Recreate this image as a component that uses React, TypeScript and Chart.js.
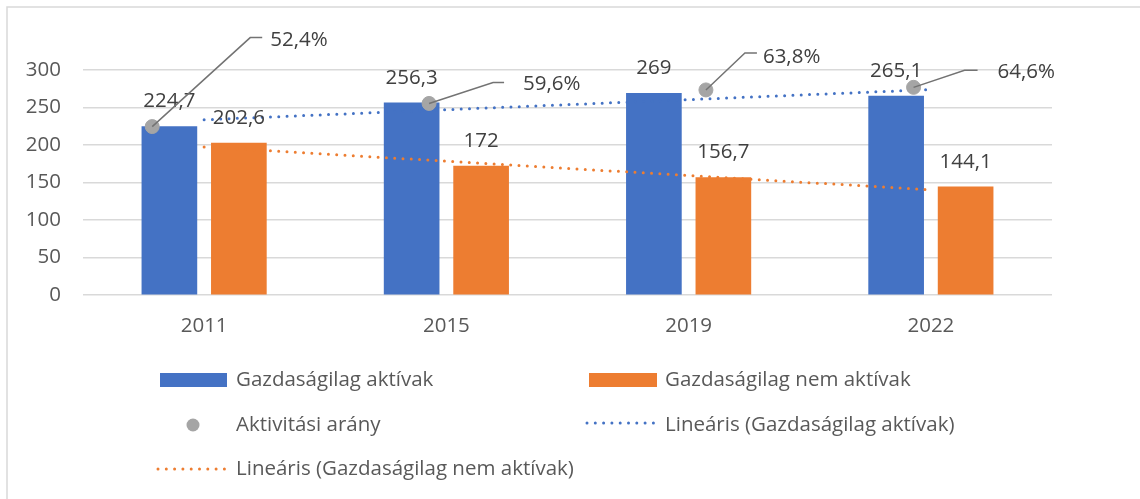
import React, { useEffect, useRef } from 'react';
import { Chart, registerables } from 'chart.js';

Chart.register(...registerables);

// ---- data ----
const categories = ['2011', '2015', '2019', '2022'];
const years = [2011, 2015, 2019, 2022];
const activeValues = [224.7, 256.3, 269, 265.1];
const inactiveValues = [202.6, 172, 156.7, 144.1];
const activityRate = [52.4, 59.6, 63.8, 64.6];
const activeTrend = [233.7, 247.1, 260.5, 273.9];
const inactiveTrend = [197.5, 178.4, 159.3, 140.2];

const seriesNames = [
  'Gazdaságilag aktívak',
  'Gazdaságilag nem aktívak',
  'Aktivitási arány',
  'Lineáris (Gazdaságilag aktívak)',
  'Lineáris (Gazdaságilag nem aktívak)',
];

// ---- styles / layout ----
const FONT = '"Open Sans", sans-serif';
const FONT_SIZE = 20.5;
const BLUE = '#4472c4';
const ORANGE = '#ed7d31';
const GRAY = '#a5a5a5';
const TEXT = '#404040';
const AXIS_TEXT = '#595959';
const GRID = '#d9d9d9';
const DOTS = [0, 8.3];
const BAR_WIDTH = 55;
const BAR_SHIFT = 0.1434; // fraction of a category between group centre and bar centre

// leader-line label placement for the rate labels (pixel offsets from the point)
const rateLabelLayout = [
  { ex: 98, ey: -89, tail: 12, tx: 118, ty: -86 },
  { ex: 64, ey: -21, tail: 11, tx: 94, ty: -19 },
  { ex: 39, ey: -37, tail: 12, tx: 57, ty: -33 },
  { ex: 51, ey: -17, tail: 13, tx: 84, ty: -15 },
];

const fmt = (v: number, suffix = '') => String(v).replace('.', ',') + suffix;

const labelsPlugin = {
  id: 'customLabels',
  afterDatasetsDraw(chart: any) {
    const ctx = chart.ctx as CanvasRenderingContext2D;
    ctx.save();
    ctx.font = `${FONT_SIZE}px ${FONT}`;
    ctx.fillStyle = TEXT;
    ctx.textAlign = 'center';
    ctx.textBaseline = 'middle';
    [activeValues, inactiveValues].forEach((vals, di) => {
      const meta = chart.getDatasetMeta(di);
      meta.data.forEach((el: any, i: number) => {
        ctx.fillText(fmt(vals[i]), el.x, el.y - 25);
      });
    });
    const pm = chart.getDatasetMeta(2);
    pm.data.forEach((el: any, i: number) => {
      const L = rateLabelLayout[i];
      ctx.beginPath();
      ctx.strokeStyle = '#737373';
      ctx.lineWidth = 1.5;
      ctx.moveTo(el.x, el.y);
      ctx.lineTo(el.x + L.ex, el.y + L.ey);
      ctx.lineTo(el.x + L.ex + L.tail, el.y + L.ey);
      ctx.stroke();
      ctx.textAlign = 'left';
      ctx.fillStyle = TEXT;
      ctx.fillText(fmt(activityRate[i], '%'), el.x + L.tx, el.y + L.ty);
    });
    ctx.restore();
  },
  afterDraw(chart: any) {
    const ctx = chart.ctx as CanvasRenderingContext2D;
    ctx.save();
    // outer frame
    ctx.strokeStyle = GRID;
    ctx.lineWidth = 1.5;
    ctx.beginPath();
    ctx.moveTo(7, 520);
    ctx.lineTo(7, 7);
    ctx.lineTo(1160, 7);
    ctx.stroke();

    // legend
    ctx.font = `${FONT_SIZE}px ${FONT}`;
    ctx.fillStyle = AXIS_TEXT;
    ctx.textAlign = 'left';
    ctx.textBaseline = 'middle';
    const rows = [380, 425, 469];
    const colA = { s: 160, e: 227, t: 236 };
    const colB = { s: 589, e: 657, t: 665 };
    const rect = (c: any, y: number, color: string) => {
      ctx.fillStyle = color;
      ctx.fillRect(c.s, y - 7, c.e - c.s, 14);
    };
    const dotted = (c: any, y: number, color: string) => {
      ctx.beginPath();
      ctx.strokeStyle = color;
      ctx.lineWidth = 3;
      ctx.lineCap = 'round';
      ctx.setLineDash(DOTS);
      ctx.moveTo(c.s, y);
      ctx.lineTo(c.e, y);
      ctx.stroke();
      ctx.setLineDash([]);
    };
    const label = (c: any, y: number, txt: string) => {
      ctx.fillStyle = AXIS_TEXT;
      ctx.fillText(txt, c.t, y);
    };
    rect(colA, rows[0], BLUE);
    label(colA, rows[0], seriesNames[0]);
    rect(colB, rows[0], ORANGE);
    label(colB, rows[0], seriesNames[1]);
    ctx.beginPath();
    ctx.fillStyle = GRAY;
    ctx.arc(193, rows[1], 6.5, 0, Math.PI * 2);
    ctx.fill();
    label(colA, rows[1], seriesNames[2]);
    dotted({ s: 587, e: 657 }, rows[1] - 2, BLUE);
    label(colB, rows[1], seriesNames[3]);
    dotted({ s: 158, e: 227 }, rows[2], ORANGE);
    label(colA, rows[2], seriesNames[4]);
    ctx.restore();
  },
};

export default function App() {
  const ref = useRef<HTMLCanvasElement | null>(null);
  useEffect(() => {
    let chart: Chart | null = null;
    let cancelled = false;
    const make = () => {
      if (cancelled || !ref.current) return;
      chart = new Chart(ref.current, {
        type: 'bar',
        data: {
          labels: categories,
          datasets: [
            {
              type: 'bar',
              label: seriesNames[0],
              data: categories.map((_, i) => ({ x: i, y: activeValues[i] })),
              xAxisID: 'xb1',
              backgroundColor: BLUE,
              order: 3,
              grouped: false,
              barThickness: BAR_WIDTH,
            },
            {
              type: 'bar',
              label: seriesNames[1],
              data: categories.map((_, i) => ({ x: i, y: inactiveValues[i] })),
              xAxisID: 'xb2',
              backgroundColor: ORANGE,
              order: 3,
              grouped: false,
              barThickness: BAR_WIDTH,
            },
            {
              type: 'scatter',
              label: seriesNames[2],
              data: years.map((y, i) => ({ x: y, y: activityRate[i] })),
              xAxisID: 'x2',
              yAxisID: 'y2',
              backgroundColor: GRAY,
              borderColor: GRAY,
              pointRadius: 7,
              order: 1,
            },
            {
              type: 'line',
              label: seriesNames[3],
              data: activeTrend,
              xAxisID: 'x',
              borderColor: BLUE,
              borderWidth: 3,
              borderDash: DOTS,
              borderCapStyle: 'round',
              pointRadius: 0,
              fill: false,
              tension: 0,
              order: 2,
            },
            {
              type: 'line',
              label: seriesNames[4],
              data: inactiveTrend,
              xAxisID: 'x',
              borderColor: ORANGE,
              borderWidth: 3,
              borderDash: DOTS,
              borderCapStyle: 'round',
              pointRadius: 0,
              fill: false,
              tension: 0,
              order: 2,
            },
          ] as any,
        },
        options: {
          responsive: false,
          animation: false,
          layout: { padding: { top: 70, right: 88, left: 0, bottom: 0 } },
          plugins: {
            legend: { display: false },
            tooltip: { enabled: false },
          },
          scales: {
            x: {
              type: 'category',
              offset: true,
              grid: { display: false },
              border: { display: false },
              ticks: { font: { family: FONT, size: FONT_SIZE }, color: AXIS_TEXT, padding: 11 },
              afterFit: (s: any) => {
                s.height = 204;
              },
            },
            y: {
              min: 0,
              max: 300,
              ticks: { stepSize: 50, font: { family: FONT, size: FONT_SIZE }, color: AXIS_TEXT, padding: 22 },
              grid: { color: GRID, lineWidth: 1.5, drawTicks: false },
              border: { display: false },
              afterFit: (s: any) => {
                s.width = 83;
              },
            },
            xb1: {
              type: 'linear',
              display: false,
              offset: false,
              min: -0.5 + BAR_SHIFT,
              max: categories.length - 0.5 + BAR_SHIFT,
            },
            xb2: {
              type: 'linear',
              display: false,
              offset: false,
              min: -0.5 - BAR_SHIFT,
              max: categories.length - 0.5 - BAR_SHIFT,
            },
            x2: { type: 'linear', display: false, offset: false, min: 2010, max: 2024 },
            y2: { type: 'linear', display: false, min: 0, max: 70 },
          },
        } as any,
        plugins: [labelsPlugin],
      });
    };
    const fonts: any = (document as any).fonts;
    if (fonts && fonts.load) {
      fonts.load(`20px ${FONT}`).then(make, make);
    } else make();
    return () => {
      cancelled = true;
      if (chart) chart.destroy();
    };
  }, []);
  return (
    <div style={{ position: 'absolute', left: 0, top: 0, width: 1140, height: 499, background: '#fff' }}>
      <canvas ref={ref} width={1140} height={499} />
    </div>
  );
}
